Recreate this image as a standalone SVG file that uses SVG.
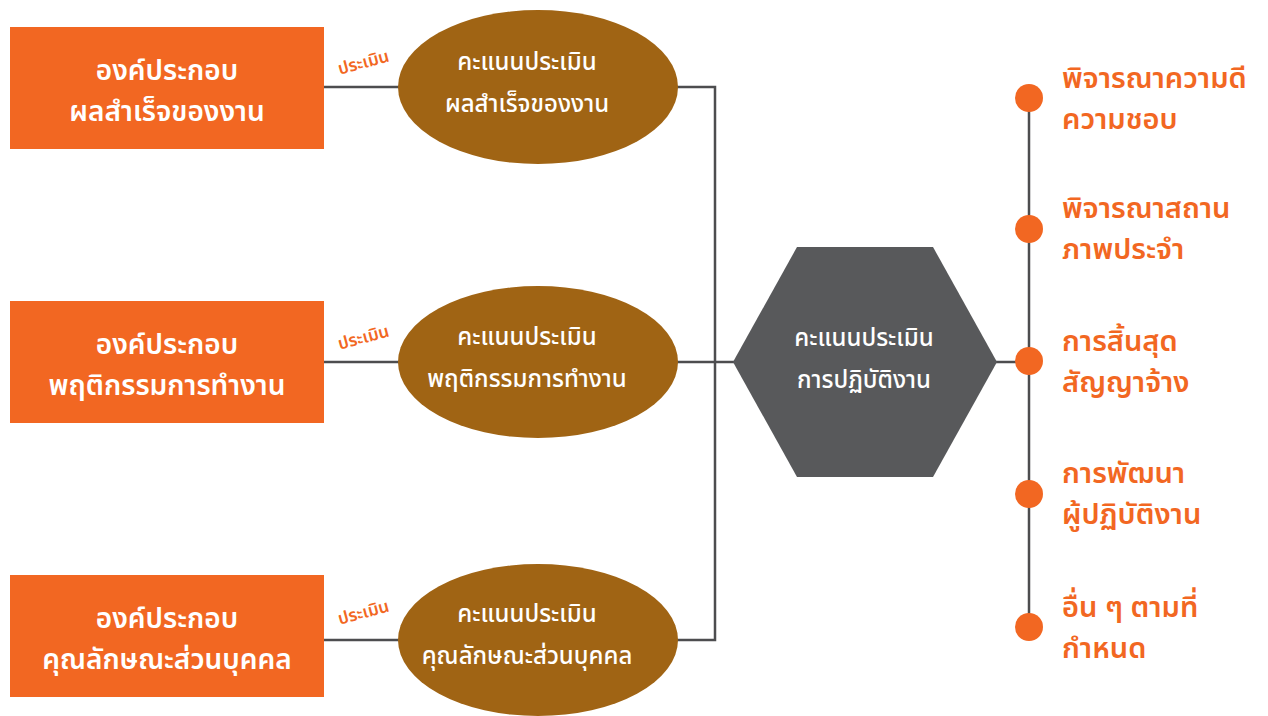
<svg xmlns="http://www.w3.org/2000/svg" width="1268" height="716" viewBox="0 0 1268 716">
<style>
text{font-family:"Noto Sans Thai","Noto Sans",sans-serif;}
.box{fill:#F26722;}
.ell{fill:#A06414;}
.hex{fill:#58595B;}
.dot{fill:#F26722;}
.line{stroke:#4D4D4F;stroke-width:2.5;fill:none;}
.bt{fill:#fff;font-size:28px;font-weight:600;text-anchor:middle;}
.et{fill:#fff;font-size:24px;font-weight:500;text-anchor:middle;}
.lab{fill:#F26722;font-size:17px;font-weight:600;text-anchor:middle;}
.rt{fill:#F26722;font-size:29px;font-weight:600;}
</style>
<rect width="1268" height="716" fill="#fff"/>
<g id="connectors">
<path class="line" d="M324 87H400M324 362H400M324 640H400"/>
<path class="line" d="M676 87H715V640H676M676 362H735"/>
<path class="line" d="M995 362H1029M1029 98V628"/>
</g>
<g id="box1"><rect class="box" x="10" y="27" width="314" height="122"/><text class="bt" x="167" y="80">องค์ประกอบ</text><text class="bt" x="167" y="121">ผลสำเร็จของงาน</text></g>
<g id="box2"><rect class="box" x="10" y="301" width="314" height="122"/><text class="bt" x="167" y="354">องค์ประกอบ</text><text class="bt" x="167" y="395">พฤติกรรมการทำงาน</text></g>
<g id="box3"><rect class="box" x="10" y="575" width="314" height="122"/><text class="bt" x="167" y="628">องค์ประกอบ</text><text class="bt" x="167" y="669">คุณลักษณะส่วนบุคคล</text></g>
<g id="label1"><text class="lab" transform="translate(365 68) rotate(-15)">ประเมิน</text></g>
<g id="label2"><text class="lab" transform="translate(365 343) rotate(-15)">ประเมิน</text></g>
<g id="label3"><text class="lab" transform="translate(365 618) rotate(-15)">ประเมิน</text></g>
<g id="ell1"><ellipse class="ell" cx="538" cy="87" rx="140" ry="77"/><text class="et" x="527" y="70">คะแนนประเมิน</text><text class="et" x="527" y="112">ผลสำเร็จของงาน</text></g>
<g id="ell2"><ellipse class="ell" cx="538" cy="362" rx="140" ry="76"/><text class="et" x="527" y="345">คะแนนประเมิน</text><text class="et" x="527" y="387">พฤติกรรมการทำงาน</text></g>
<g id="ell3"><ellipse class="ell" cx="538" cy="640" rx="140" ry="76"/><text class="et" x="527" y="622">คะแนนประเมิน</text><text class="et" x="527" y="664">คุณลักษณะส่วนบุคคล</text></g>
<g id="hex"><polygon class="hex" points="733,362 797,247 933,247 997,362 933,477 797,477"/><text class="et" x="864" y="346">คะแนนประเมิน</text><text class="et" x="864" y="388">การปฏิบัติงาน</text></g>
<g id="item1"><circle class="dot" cx="1029" cy="98" r="14"/><text class="rt" x="1062" y="88">พิจารณาความดี</text><text class="rt" x="1062" y="129">ความชอบ</text></g>
<g id="item2"><circle class="dot" cx="1029" cy="229" r="14"/><text class="rt" x="1062" y="218">พิจารณาสถาน</text><text class="rt" x="1062" y="259">ภาพประจำ</text></g>
<g id="item3"><circle class="dot" cx="1029" cy="361" r="14"/><text class="rt" x="1062" y="351">การสิ้นสุด</text><text class="rt" x="1062" y="392">สัญญาจ้าง</text></g>
<g id="item4"><circle class="dot" cx="1029" cy="494" r="14"/><text class="rt" x="1062" y="483">การพัฒนา</text><text class="rt" x="1062" y="524">ผู้ปฏิบัติงาน</text></g>
<g id="item5"><circle class="dot" cx="1029" cy="627" r="14"/><text class="rt" x="1062" y="617">อื่น ๆ ตามที่</text><text class="rt" x="1062" y="658">กำหนด</text></g>
</svg>
